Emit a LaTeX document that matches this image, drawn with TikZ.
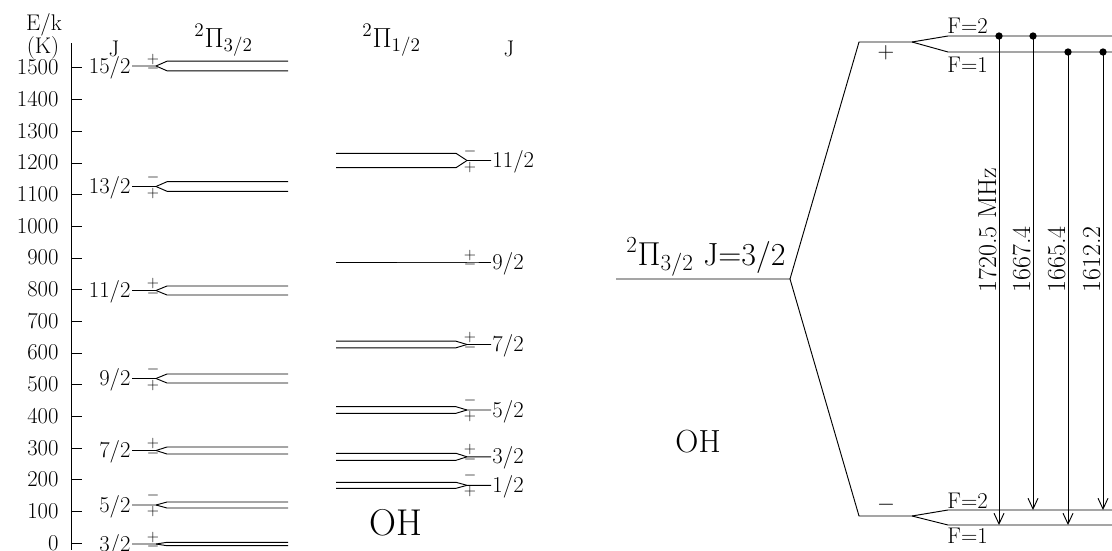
\documentclass[tikz,border=0pt]{standalone}
\usetikzlibrary{arrows.meta}
\begin{document}
\begin{tikzpicture}[x=0.75pt,y=-0.75pt, line width=0.7pt,
  lbl/.style={inner sep=0pt, font=\fontsize{17}{17}\selectfont},
  big/.style={inner sep=0pt, font=\fontsize{24}{24}\selectfont},
  hdr/.style={inner sep=0pt, font=\fontsize{22}{22}\selectfont},
  sgn/.style={inner sep=0pt, font=\fontsize{11.5}{11.5}\selectfont},
  psgn/.style={inner sep=0pt, font=\fontsize{17}{17}\selectfont},
  freq/.style={inner sep=0pt, font=\fontsize{19.5}{19.5}\selectfont, rotate=90, anchor=south west},
  trans/.style={-{Straight Barb[length=8pt,width=7.5pt]}},
  dotnode/.style={circle, fill=black, inner sep=0pt, minimum size=5.5pt}]
\useasboundingbox (0,0) rectangle (1112,550);

% ---------- energy axis ----------
\coordinate (axtop) at (71,43);
\coordinate (axbot) at (71,550);
\draw (axtop) -- (axbot);
\foreach \e in {0,100,...,1500} {
  \pgfmathsetmacro\yy{543-0.3167*\e}
  \coordinate (tk\e) at (71,\yy);
  \coordinate (tke\e) at (82,\yy);
  \draw (tk\e) -- (tke\e);
  \node[lbl, anchor=base east] (tl\e) at (59,\yy+7) {\e};
}
\node[lbl, anchor=base] (ek) at (44,30) {E/k};
\node[lbl, anchor=base] (kk) at (43,53) {(K)};
\node[lbl, anchor=base] (jl) at (114,56) {J};
\node[lbl, anchor=base] (jr) at (509,56) {J};
\node[hdr, anchor=base west] (h32) at (194,47) {$^2\Pi_{3/2}$};
\node[hdr, anchor=base west] (h12) at (362,47) {$^2\Pi_{1/2}$};

% ---------- 2Pi 3/2 ladder ----------
\foreach \c/\h/\J/\p [count=\i] in {66/4.8/{15/2}/p, 186.5/4.8/{13/2}/m, 290.5/4.5/{11/2}/p, 378.5/4.5/{9/2}/m, 450.5/3.5/{7/2}/p, 505/3/{5/2}/m, 544/1.7/{3/2}/p} {
  \coordinate (La\i) at (132,\c);
  \coordinate (Lf\i) at (156,\c);
  \draw (La\i) -- (Lf\i) -- (167,\c-\h) -- (288,\c-\h);
  \draw (Lf\i) -- (167,\c+\h) -- (288,\c+\h);
  \node[lbl, anchor=base east] (LJ\i) at (131,\c+7) {\J};
  \if\p p
    \node[sgn] (Lu\i) at (153,\c-7) {$+$};
    \node[sgn] (Ll\i) at (153,\c+2.5) {$-$};
  \else
    \node[sgn] (Lu\i) at (153,\c-9.5) {$-$};
    \node[sgn] (Ll\i) at (153,\c+6.5) {$+$};
  \fi
}

% ---------- 2Pi 1/2 ladder ----------
\foreach \c/\h/\J/\p [count=\i] in {160.5/7.2/{11/2}/m, 262/0/{9/2}/p, 344.5/3.3/{7/2}/p, 410/3.3/{5/2}/m, 456.8/3.5/{3/2}/p, 485.3/3/{1/2}/m} {
  \coordinate (Ra\i) at (491,\c);
  \coordinate (Rf\i) at (467,\c);
  \draw (Ra\i) -- (Rf\i) -- (456,\c-\h) -- (336,\c-\h);
  \draw (Rf\i) -- (456,\c+\h) -- (336,\c+\h);
  \node[lbl, anchor=base west] (RJ\i) at (492,\c+7) {\J};
  \if\p p
    \node[sgn] (Ru\i) at (470,\c-7) {$+$};
    \node[sgn] (Rl\i) at (470,\c+2.5) {$-$};
  \else
    \node[sgn] (Ru\i) at (470,\c-9.5) {$-$};
    \node[sgn] (Rl\i) at (470,\c+6.5) {$+$};
  \fi
}

\node[inner sep=0pt, font=\fontsize{28}{28}\selectfont, anchor=base west] (oh1) at (369,535) {OH};
\node[inner sep=0pt, font=\fontsize{24}{24}\selectfont, anchor=base west] (oh2) at (675,452) {OH};

% ---------- hyperfine diagram ----------
\coordinate (g0) at (616,279);
\coordinate (g1) at (790,279);
\coordinate (pu) at (859,42);
\coordinate (pf) at (912,42);
\coordinate (pu2) at (948,36);
\coordinate (pu1) at (948,52);
\coordinate (pe2) at (1112,36);
\coordinate (pe1) at (1112,52);
\coordinate (mu) at (859,516);
\coordinate (mf) at (912,516);
\coordinate (ml2) at (948,510);
\coordinate (ml1) at (948,525);
\coordinate (me2) at (1112,510);
\coordinate (me1) at (1112,525);
\draw (g0) -- (g1) -- (pu) -- (pf) -- (pu2) -- (pe2);
\draw (pf) -- (pu1) -- (pe1);
\draw (g1) -- (mu) -- (mf) -- (ml2) -- (me2);
\draw (mf) -- (ml1) -- (me1);

\node[big, anchor=base east] (glab) at (786,265) {$^2\Pi_{3/2}$\ J=3/2};
\node[psgn] (plus) at (886,53) {$+$};
\node[psgn] (minus) at (886,505) {$-$};
\node[lbl, anchor=base west] (F2u) at (947,33) {F=2};
\node[lbl, anchor=base west] (F1u) at (947,72) {F=1};
\node[lbl, anchor=base west] (F2l) at (947,508) {F=2};
\node[lbl, anchor=base west] (F1l) at (947,543) {F=1};

\node[dotnode] (d1) at (999,36) {};
\node[dotnode] (d2) at (1033,36) {};
\node[dotnode] (d3) at (1068,52) {};
\node[dotnode] (d4) at (1103,52) {};
\coordinate (e1) at (999,525);
\coordinate (e2) at (1033,510);
\coordinate (e3) at (1068,525);
\coordinate (e4) at (1103,510);
\draw[trans] (d1.center) -- (e1);
\draw[trans] (d2.center) -- (e2);
\draw[trans] (d3.center) -- (e3);
\draw[trans] (d4.center) -- (e4);

\node[freq] (f1) at (997,293) {1720.5 MHz};
\node[freq] (f2) at (1031,293) {1667.4};
\node[freq] (f3) at (1066,293) {1665.4};
\node[freq] (f4) at (1101,293) {1612.2};
\end{tikzpicture}
\end{document}
